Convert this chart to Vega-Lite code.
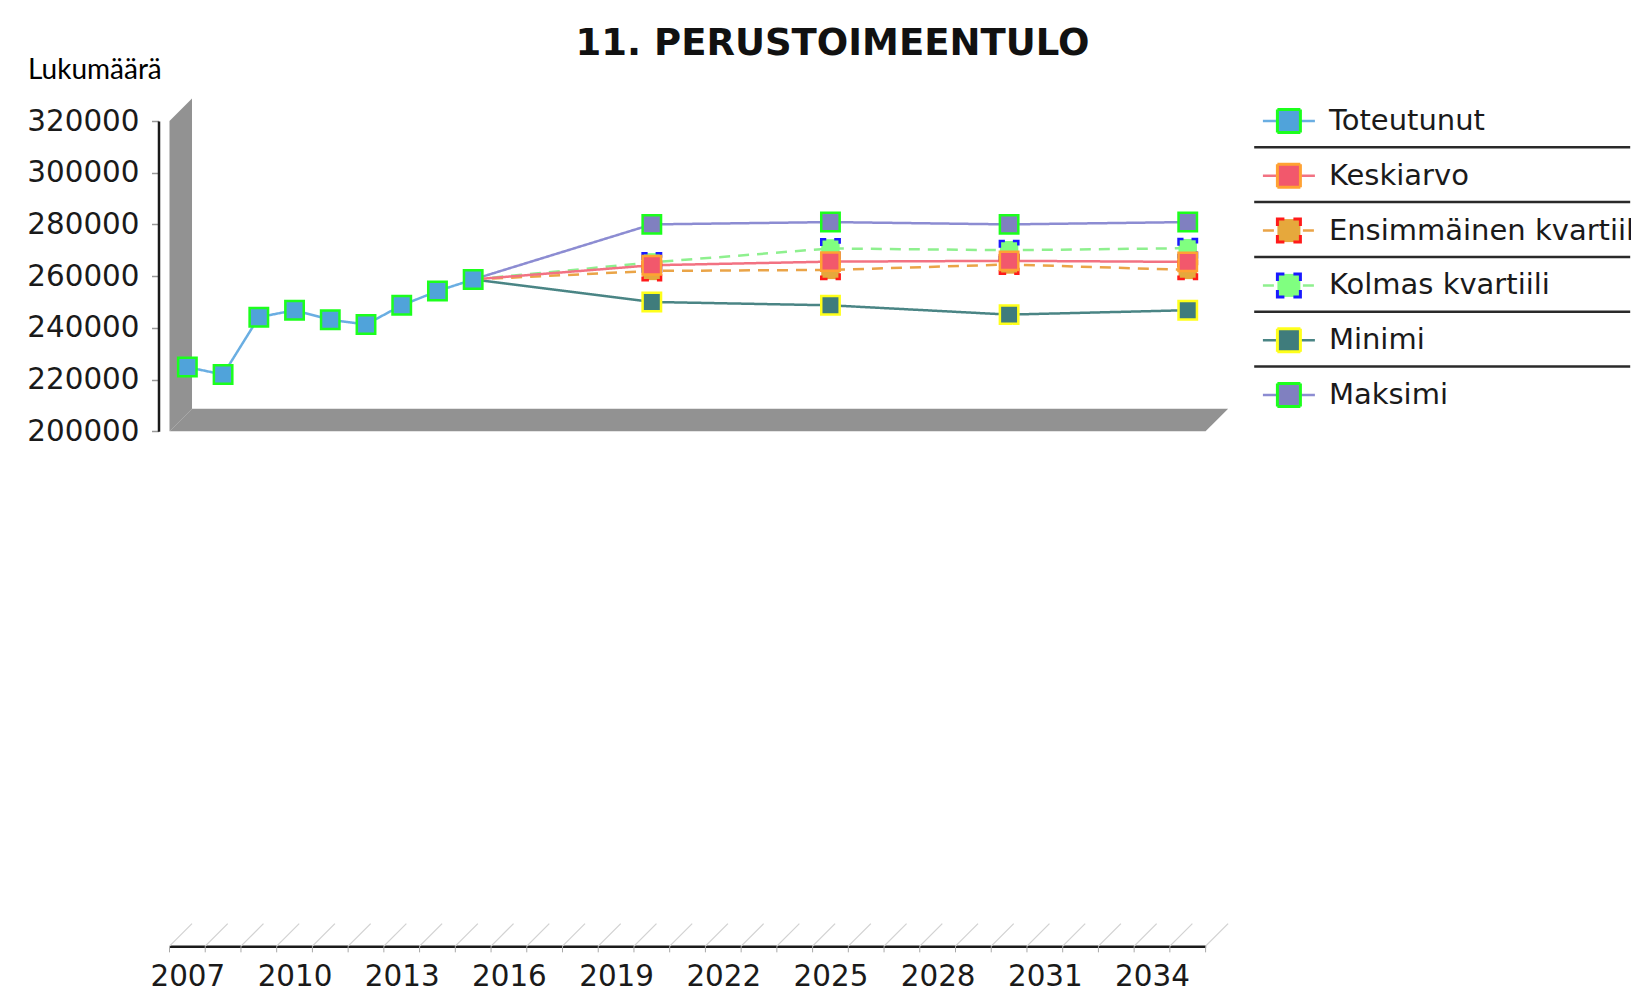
{
  "$schema": "https://vega.github.io/schema/vega-lite/v6.json",
  "autosize": {"type": "pad"},
  "padding": {"left": 26.5, "top": 24, "right": 0, "bottom": 4},
  "background": "white",
  "bounds": "flush",
  "spacing": 47.7,
  "title": {"text": "11. PERUSTOIMEENTULO", "font": "DejaVu Sans", "fontSize": 37, "fontWeight": "bold", "color": "#111111", "anchor": "middle", "offset": -6.5, "dx": -2},
  "config": {"view": {"stroke": null}, "font": "DejaVu Sans", "axis": {"labelOverlap": false}},
  "datasets": {
    "main": [
      {"year": 2007, "series": "Toteutunut", "value": 224800},
      {"year": 2008, "series": "Toteutunut", "value": 221900},
      {"year": 2009, "series": "Toteutunut", "value": 244100},
      {"year": 2010, "series": "Toteutunut", "value": 246800},
      {"year": 2011, "series": "Toteutunut", "value": 243100},
      {"year": 2012, "series": "Toteutunut", "value": 241300},
      {"year": 2013, "series": "Toteutunut", "value": 248700},
      {"year": 2014, "series": "Toteutunut", "value": 254200},
      {"year": 2015, "series": "Toteutunut", "value": 258700},
      {"year": 2015, "series": "Minimi", "value": 258700},
      {"year": 2020, "series": "Minimi", "value": 250000},
      {"year": 2025, "series": "Minimi", "value": 248700},
      {"year": 2030, "series": "Minimi", "value": 245100},
      {"year": 2035, "series": "Minimi", "value": 246800},
      {"year": 2015, "series": "Maksimi", "value": 258700},
      {"year": 2020, "series": "Maksimi", "value": 280000},
      {"year": 2025, "series": "Maksimi", "value": 280900},
      {"year": 2030, "series": "Maksimi", "value": 280000},
      {"year": 2035, "series": "Maksimi", "value": 280900},
      {"year": 2015, "series": "Kolmas kvartiili", "value": 258700},
      {"year": 2020, "series": "Kolmas kvartiili", "value": 265300},
      {"year": 2025, "series": "Kolmas kvartiili", "value": 270700},
      {"year": 2030, "series": "Kolmas kvartiili", "value": 270000},
      {"year": 2035, "series": "Kolmas kvartiili", "value": 270800},
      {"year": 2015, "series": "Ensimmäinen kvartiili", "value": 258700},
      {"year": 2020, "series": "Ensimmäinen kvartiili", "value": 262000},
      {"year": 2025, "series": "Ensimmäinen kvartiili", "value": 262400},
      {"year": 2030, "series": "Ensimmäinen kvartiili", "value": 264500},
      {"year": 2035, "series": "Ensimmäinen kvartiili", "value": 262400},
      {"year": 2015, "series": "Keskiarvo", "value": 258700},
      {"year": 2020, "series": "Keskiarvo", "value": 264200},
      {"year": 2025, "series": "Keskiarvo", "value": 265600},
      {"year": 2030, "series": "Keskiarvo", "value": 265900},
      {"year": 2035, "series": "Keskiarvo", "value": 265500}
    ],
    "wall": [
      {"year": 2006.5, "value": 320000, "value2": 200000},
      {"year": 2007.13, "value": 328700, "value2": 208700}
    ],
    "floor": [
      {"value": 200000, "year": 2006.5, "year2": 2035.5},
      {"value": 208700, "year": 2007.13, "year2": 2036.13}
    ],
    "hatch": [
      {"year": 2006.5, "year2": 2007.13}, {"year": 2007.5, "year2": 2008.13}, {"year": 2008.5, "year2": 2009.13},
      {"year": 2009.5, "year2": 2010.13}, {"year": 2010.5, "year2": 2011.13}, {"year": 2011.5, "year2": 2012.13},
      {"year": 2012.5, "year2": 2013.13}, {"year": 2013.5, "year2": 2014.13}, {"year": 2014.5, "year2": 2015.13},
      {"year": 2015.5, "year2": 2016.13}, {"year": 2016.5, "year2": 2017.13}, {"year": 2017.5, "year2": 2018.13},
      {"year": 2018.5, "year2": 2019.13}, {"year": 2019.5, "year2": 2020.13}, {"year": 2020.5, "year2": 2021.13},
      {"year": 2021.5, "year2": 2022.13}, {"year": 2022.5, "year2": 2023.13}, {"year": 2023.5, "year2": 2024.13},
      {"year": 2024.5, "year2": 2025.13}, {"year": 2025.5, "year2": 2026.13}, {"year": 2026.5, "year2": 2027.13},
      {"year": 2027.5, "year2": 2028.13}, {"year": 2028.5, "year2": 2029.13}, {"year": 2029.5, "year2": 2030.13},
      {"year": 2030.5, "year2": 2031.13}, {"year": 2031.5, "year2": 2032.13}, {"year": 2032.5, "year2": 2033.13},
      {"year": 2033.5, "year2": 2034.13}, {"year": 2034.5, "year2": 2035.13}, {"year": 2035.5, "year2": 2036.13}
    ],
    "legend": [
      {"series": "Toteutunut"},
      {"series": "Keskiarvo"},
      {"series": "Ensimmäinen kvartiili"},
      {"series": "Kolmas kvartiili"},
      {"series": "Minimi"},
      {"series": "Maksimi"}
    ]
  },
  "hconcat": [
    {
      "width": 1036.1,
      "height": 310.2,
      "layer": [
        {
          "data": {"name": "wall"},
          "mark": {"type": "area", "orient": "vertical", "fill": "#929292", "stroke": null},
          "encoding": {
            "x": {
              "field": "year", "type": "quantitative",
              "scale": {"domain": [2006.5, 2035.5], "nice": false, "zero": false},
              "axis": {
                "values": [2006.5, 2009.5, 2012.5, 2015.5, 2018.5, 2021.5, 2024.5, 2027.5, 2030.5, 2033.5],
                "offset": 515,
                "domainColor": "#1a1a1a", "domainWidth": 2.5,
                "ticks": false,
                "labelExpr": "toString(datum.value + 0.5)",
                "labelOffset": 17.86,
                "labelFont": "DejaVu Sans", "labelFontSize": 29.4, "labelColor": "#1a1a1a",
                "labelPadding": 16, "labelOverlap": false, "labelFlush": false, "labelBound": false,
                "grid": false, "title": null
              }
            },
            "y": {
              "field": "value", "type": "quantitative",
              "scale": {"domain": [200000, 320000], "nice": false, "zero": false},
              "axis": {
                "values": [200000, 220000, 240000, 260000, 280000, 300000, 320000],
                "format": "d",
                "offset": 11,
                "domainColor": "#1a1a1a", "domainWidth": 2.5,
                "tickColor": "#999999", "tickSize": 7, "tickWidth": 1.5,
                "labelFont": "DejaVu Sans", "labelFontSize": 29.4, "labelColor": "#1a1a1a",
                "labelPadding": 12.5, "labelOverlap": false, "labelFlush": false, "labelBound": false,
                "grid": false,
                "title": "Lukumäärä", "titleFont": "Lato", "titleFontSize": 28, "titleFontWeight": "normal", "titleColor": "#000000",
                "titleAngle": 0, "titleAlign": "left", "titleBaseline": "middle", "titleX": -131, "titleY": -51
              }
            },
            "y2": {"field": "value2"}
          }
        },
        {
          "data": {"name": "floor"},
          "mark": {"type": "area", "orient": "horizontal", "fill": "#929292", "stroke": null},
          "encoding": {
            "y": {"field": "value", "type": "quantitative"},
            "x": {"field": "year", "type": "quantitative"},
            "x2": {"field": "year2"}
          }
        },
        {
          "data": {"name": "hatch"},
          "mark": {"type": "rule", "color": "#d2d2d2", "strokeWidth": 1.3},
          "encoding": {
            "x": {"field": "year", "type": "quantitative"},
            "x2": {"field": "year2"},
            "y": {"datum": 800, "type": "quantitative"},
            "y2": {"datum": 9500}
          }
        },
        {
          "data": {"name": "hatch"},
          "mark": {"type": "rule", "color": "#a8a8a8", "strokeWidth": 1},
          "encoding": {
            "x": {"field": "year", "type": "quantitative"},
            "y": {"datum": 800, "type": "quantitative"},
            "y2": {"datum": -1600}
          }
        },
        {
          "data": {"name": "main"},
          "mark": {"type": "line", "strokeWidth": 2.5},
          "encoding": {
            "x": {"field": "year", "type": "quantitative"},
            "y": {"field": "value", "type": "quantitative"},
            "stroke": {
              "field": "series", "type": "nominal", "legend": null,
              "scale": {
                "domain": ["Toteutunut", "Keskiarvo", "Ensimmäinen kvartiili", "Kolmas kvartiili", "Minimi", "Maksimi"],
                "range": ["#6aaee2", "#f27282", "#eaa447", "#8ef08e", "#4a8585", "#8c8cd2"]
              }
            },
            "strokeDash": {
              "field": "series", "type": "nominal", "legend": null,
              "scale": {
                "domain": ["Toteutunut", "Keskiarvo", "Ensimmäinen kvartiili", "Kolmas kvartiili", "Minimi", "Maksimi"],
                "range": [[1, 0], [1, 0], [11, 8], [11, 8], [1, 0], [1, 0]]
              }
            }
          }
        },
        {
          "data": {"name": "main"},
          "transform": [{"filter": "datum.series === 'Toteutunut' || datum.year !== 2015"}],
          "mark": {"type": "point", "shape": "square", "size": 340, "filled": true, "opacity": 1, "strokeWidth": 2.5, "strokeDashOffset": 5},
          "encoding": {
            "x": {"field": "year", "type": "quantitative"},
            "y": {"field": "value", "type": "quantitative"},
            "fill": {
              "field": "series", "type": "nominal", "legend": null,
              "scale": {
                "domain": ["Toteutunut", "Keskiarvo", "Ensimmäinen kvartiili", "Kolmas kvartiili", "Minimi", "Maksimi"],
                "range": ["#50a3da", "#f2586c", "#e6a83c", "#80ff80", "#3f7c7c", "#8080c0"]
              }
            },
            "stroke": {
              "field": "series", "type": "nominal", "legend": null,
              "scale": {
                "domain": ["Toteutunut", "Keskiarvo", "Ensimmäinen kvartiili", "Kolmas kvartiili", "Minimi", "Maksimi"],
                "range": ["#1cff1c", "#ffa233", "#ff1a1a", "#1a1aff", "#ffff1a", "#1cff1c"]
              }
            },
            "strokeDash": {
              "field": "series", "type": "nominal", "legend": null,
              "scale": {
                "domain": ["Toteutunut", "Keskiarvo", "Ensimmäinen kvartiili", "Kolmas kvartiili", "Minimi", "Maksimi"],
                "range": [[1, 0], [1, 0], [10, 8], [10, 8], [1, 0], [1, 0]]
              }
            }
          }
        }
      ],
      "resolve": {"scale": {"stroke": "independent", "strokeDash": "independent"}}
    },
    {
      "width": 376,
      "height": 274,
      "data": {"name": "legend"},
      "encoding": {
        "y": {
          "field": "series", "type": "nominal", "axis": null,
          "scale": {"type": "point", "padding": 0, "domain": ["Toteutunut", "Keskiarvo", "Ensimmäinen kvartiili", "Kolmas kvartiili", "Minimi", "Maksimi"]}
        }
      },
      "layer": [
        {
          "transform": [{"filter": "datum.series !== 'Toteutunut'"}],
          "mark": {"type": "rule", "color": "#2a2a2a", "strokeWidth": 2.5, "yOffset": -28.5}
        },
        {
          "mark": {"type": "point", "shape": "M-1,0H1", "size": 2704, "filled": false, "opacity": 1, "strokeWidth": 2.5},
          "encoding": {
            "x": {"datum": "symbol", "type": "nominal", "axis": null, "scale": {"type": "point", "domain": ["symbol"], "padding": 0, "align": 0.0923}},
            "stroke": {
              "field": "series", "type": "nominal", "legend": null,
              "scale": {
                "domain": ["Toteutunut", "Keskiarvo", "Ensimmäinen kvartiili", "Kolmas kvartiili", "Minimi", "Maksimi"],
                "range": ["#6aaee2", "#f27282", "#eaa447", "#8ef08e", "#4a8585", "#8c8cd2"]
              }
            },
            "strokeDash": {
              "field": "series", "type": "nominal", "legend": null,
              "scale": {
                "domain": ["Toteutunut", "Keskiarvo", "Ensimmäinen kvartiili", "Kolmas kvartiili", "Minimi", "Maksimi"],
                "range": [[1, 0], [1, 0], [11, 9], [11, 9], [1, 0], [1, 0]]
              }
            }
          }
        },
        {
          "mark": {"type": "point", "shape": "square", "size": 529, "filled": true, "opacity": 1, "strokeWidth": 3, "strokeDashOffset": 7},
          "encoding": {
            "x": {"datum": "symbol", "type": "nominal"},
            "fill": {
              "field": "series", "type": "nominal", "legend": null,
              "scale": {
                "domain": ["Toteutunut", "Keskiarvo", "Ensimmäinen kvartiili", "Kolmas kvartiili", "Minimi", "Maksimi"],
                "range": ["#50a3da", "#f2586c", "#e6a83c", "#80ff80", "#3f7c7c", "#8080c0"]
              }
            },
            "stroke": {
              "field": "series", "type": "nominal", "legend": null,
              "scale": {
                "domain": ["Toteutunut", "Keskiarvo", "Ensimmäinen kvartiili", "Kolmas kvartiili", "Minimi", "Maksimi"],
                "range": ["#1cff1c", "#ffa233", "#ff1a1a", "#1a1aff", "#ffff1a", "#1cff1c"]
              }
            },
            "strokeDash": {
              "field": "series", "type": "nominal", "legend": null,
              "scale": {
                "domain": ["Toteutunut", "Keskiarvo", "Ensimmäinen kvartiili", "Kolmas kvartiili", "Minimi", "Maksimi"],
                "range": [[1, 0], [1, 0], [14, 9], [14, 9], [1, 0], [1, 0]]
              }
            }
          }
        },
        {
          "mark": {"type": "text", "align": "left", "baseline": "middle", "dx": 40, "font": "DejaVu Sans", "fontSize": 29, "color": "#1a1a1a"},
          "encoding": {
            "x": {"datum": "symbol", "type": "nominal"},
            "text": {"field": "series", "type": "nominal"}
          }
        }
      ],
      "resolve": {"scale": {"stroke": "independent", "strokeDash": "independent"}}
    }
  ]
}
